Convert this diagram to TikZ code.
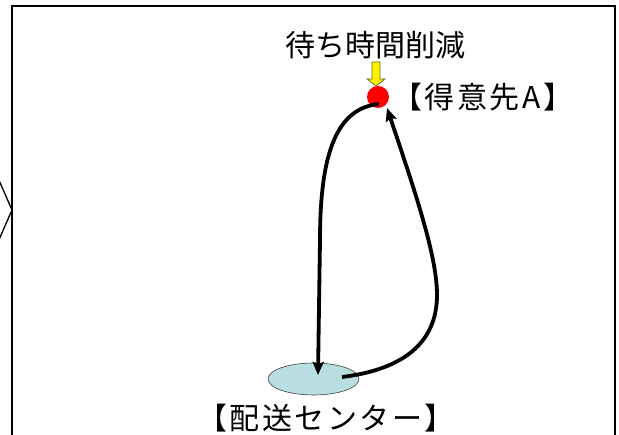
\documentclass[tikz,border=0pt]{standalone}
\usepackage{fontspec}
\newfontfamily\jp{Noto Sans CJK JP}
\newfontfamily\jpw[LetterSpace=8.5]{Noto Sans CJK JP}
\usetikzlibrary{arrows.meta,shapes.geometric}
\definecolor{centerblue}{RGB}{184,222,225}
\definecolor{arrowedge}{RGB}{110,110,30}
\begin{document}
\begin{tikzpicture}[x=1pt,y=-1pt,
  frameline/.style={line width=2pt,black},
  flow/.style={line width=3.8pt,black,-{Stealth[length=13pt,width=11pt,inset=2pt]}},
  lbl/.style={font=\jp\fontsize{30}{32}\selectfont,inner sep=0pt,text=black},
  blbl/.style={font=\jpw\fontsize{30}{32}\selectfont,inner sep=0pt,text=black},
  yellowarrow/.style={fill=yellow,draw=arrowedge,line width=0.8pt,line join=miter}]
\useasboundingbox (0,0) rectangle (619,435);
% frame (open at the bottom)
\draw[frameline] (12,437) -- (12,6) -- (615,6) -- (615,437);
% chevron on the left edge
\draw[line width=1.3pt] (-2,178) -- (12,210) -- (-2,242);
% labels
\node[lbl] (wait) at (375,45) {待ち時間削減};
\node[blbl,anchor=west] (custlbl) at (392,97) {【得意先A】};
\node[blbl] (centerlbl) at (326,418) {【配送センター】};
% delivery center
\node[ellipse,fill=centerblue,draw=black!75,line width=0.6pt,minimum width=91pt,minimum height=32pt,inner sep=0pt] (center) at (313.5,379) {};
% customer A
\node[circle,fill=red,minimum size=22pt,inner sep=0pt] (custA) at (378,97) {};
% yellow arrow
\draw[yellowarrow] (372,62) -- (380,62) -- (380,79) -- (385,79) -- (376,86) -- (367,79) -- (372,79) -- cycle;
% flow curves
\coordinate (c1s) at ([shift={(1,7)}]custA.center);
\coordinate (c1e) at ([shift={(4.5,-4)}]center.center);
\coordinate (c2s) at ([shift={(28.5,-2)}]center.center);
\coordinate (c2m) at (437,295);
\coordinate (c2e) at ([shift={(9,11)}]custA.center);
\draw[flow] (c1s) .. controls (338,108) and (320,150) .. (320,240) -- (c1e);
\draw[flow] (c2s) .. controls (400,370) and (437,345) .. (c2m) .. controls (437,258) and (418,200) .. (c2e);
\end{tikzpicture}
\end{document}
